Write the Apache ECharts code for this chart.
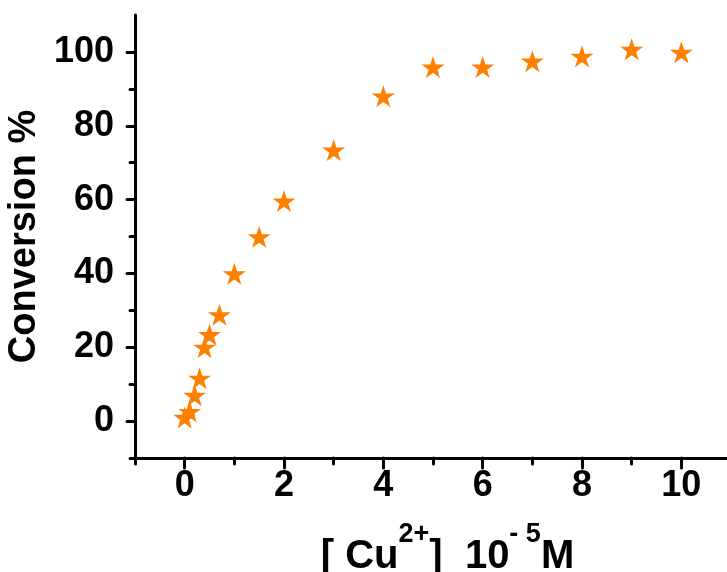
<!DOCTYPE html>
<html>
<head>
<meta charset="utf-8">
<script src="https://cdn.jsdelivr.net/npm/echarts@6/dist/echarts.min.js"></script>
<style>
html,body{margin:0;padding:0;background:#fff;}
#chart{width:727px;height:572px;}
</style>
</head>
<body>
<div id="chart"></div>
<script>
// Data
const cuConc = [0, 0.1, 0.2, 0.3, 0.4, 0.5, 0.7, 1, 1.5, 2, 3, 4, 5, 6, 7, 8, 9, 10];
const conversion = [1.0, 2.6, 7.0, 11.6, 20.0, 23.4, 28.8, 39.9, 49.9, 59.6, 73.4, 88.0, 95.9, 95.9, 97.5, 98.8, 100.7, 99.9];
const xMajorTicks = [0, 2, 4, 6, 8, 10];
const xMinorTicks = [-1, 1, 3, 5, 7, 9];
const yMajorTicks = [0, 20, 40, 60, 80, 100];
const yMinorTicks = [-10, 10, 30, 50, 70, 90];

const points = cuConc.map((x, i) => [x, conversion[i]]);
const starPath = 'path://M0,-100 L22.45,-30.9 L95.1,-30.9 L36.3,11.8 L58.8,80.9 L0,38.2 L-58.8,80.9 L-36.3,11.8 L-95.1,-30.9 L-22.45,-30.9 Z';
const FONT = '"Liberation Sans", Arial, sans-serif';
const axisLineStyle = { color: '#000', width: 3, cap: 'round' };

const chart = echarts.init(document.getElementById('chart'));
chart.setOption({
  animation: false,
  backgroundColor: '#fff',
  grid: { left: 135, right: -4, top: 15, bottom: 114, containLabel: false, outerBoundsMode: 'none' },
  xAxis: [
    {
      type: 'value', min: -1, max: 11, position: 'bottom',
      axisLine: { show: true, lineStyle: axisLineStyle, onZero: false },
      axisTick: { show: true, customValues: xMajorTicks, length: 10, lineStyle: { width: 3, color: '#000', cap: 'round' } },
      axisLabel: { customValues: xMajorTicks, margin: 10, fontFamily: FONT, fontWeight: 'bold', fontSize: 36, color: '#000' },
      splitLine: { show: false },
      name: '{b|[ Cu}{sup|2+}{b|]  10}{sup|- 5}{b|M}',
      nameLocation: 'middle',
      nameGap: 63,
      nameTextStyle: {
        padding: [0, 0, 0, 29],
        rich: {
          b: { fontFamily: FONT, fontWeight: 'bold', fontSize: 40, color: '#000', verticalAlign: 'bottom', lineHeight: 56 },
          sup: { fontFamily: FONT, fontWeight: 'bold', fontSize: 27, color: '#000', verticalAlign: 'top', lineHeight: 27 }
        }
      }
    },
    {
      type: 'value', min: -1, max: 11, position: 'bottom',
      axisLine: { show: false, onZero: false },
      axisTick: { show: true, customValues: xMinorTicks, length: 6, lineStyle: { width: 3, color: '#000', cap: 'round' } },
      axisLabel: { show: false },
      splitLine: { show: false }
    }
  ],
  yAxis: [
    {
      type: 'value', min: -10, max: 110, position: 'left',
      axisLine: { show: true, lineStyle: axisLineStyle, onZero: false },
      axisTick: { show: true, customValues: yMajorTicks, length: 8, lineStyle: { width: 3, color: '#000', cap: 'round' } },
      axisLabel: { customValues: yMajorTicks, margin: 21, fontFamily: FONT, fontWeight: 'bold', fontSize: 36, color: '#000' },
      splitLine: { show: false },
      name: 'Conversion %',
      nameLocation: 'middle',
      nameGap: 84,
      nameRotate: 90,
      nameTextStyle: { fontFamily: FONT, fontWeight: 'bold', fontSize: 38, color: '#000' }
    },
    {
      type: 'value', min: -10, max: 110, position: 'left',
      axisLine: { show: false, onZero: false },
      axisTick: { show: true, customValues: yMinorTicks, length: 5, lineStyle: { width: 3, color: '#000', cap: 'round' } },
      axisLabel: { show: false },
      splitLine: { show: false }
    }
  ],
  series: [
    {
      type: 'scatter',
      xAxisIndex: 0,
      yAxisIndex: 0,
      data: points,
      symbol: starPath,
      symbolSize: [23, 22],
      itemStyle: { color: '#FF8000', opacity: 1 }
    }
  ]
});
</script>
</body>
</html>
